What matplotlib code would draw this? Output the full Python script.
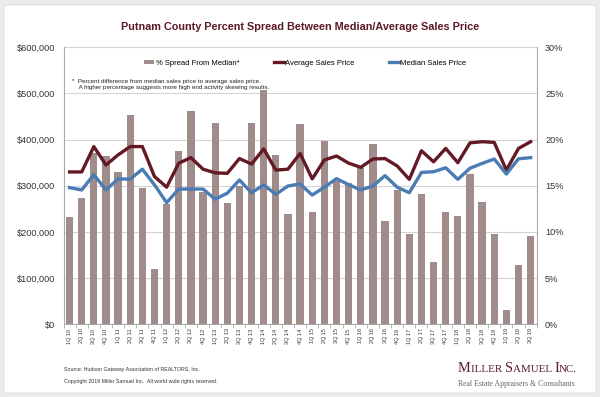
import matplotlib
matplotlib.use("Agg")
import matplotlib.pyplot as plt
import numpy as np
from matplotlib.patches import FancyBboxPatch
from matplotlib.ticker import FuncFormatter

plt.rcParams['font.family'] = ['Liberation Sans', 'DejaVu Sans']

# quarters 1Q10 .. 3Q19
quarters = [f"{q}Q {y:02d}" for y in range(10, 20) for q in range(1, 5)][:39]

# % spread from median (bars, right axis)
spread_pct = [11.6, 13.7, 18.6, 18.2, 16.5, 22.7, 14.8, 6.0, 13.0, 18.8,
              23.1, 14.3, 21.8, 13.1, 15.0, 21.8, 25.4, 18.3, 12.0, 21.7,
              12.2, 19.9, 15.5, 15.3, 16.9, 19.5, 11.2, 14.5, 9.8, 14.1,
              6.8, 12.2, 11.7, 16.3, 13.2, 9.75, 1.5, 6.4, 9.6]

# average sales price (dark red line, left axis)
avg_price = [330000, 330000, 385000, 345000, 367000, 385000, 385000, 320000, 297000, 349000,
             361000, 336000, 328000, 327000, 359000, 347000, 380000, 334000, 336000, 370000,
             315000, 356000, 364500, 349000, 340000, 358000, 359000, 343000, 314000, 376000,
             352000, 381000, 350000, 393000, 395500, 394000, 334000, 381000, 395500]

# median sales price (blue line, left axis)
median_price = [296000, 291000, 324000, 291000, 315000, 314500, 336000, 302000, 263500, 293000,
                293000, 293000, 271000, 284000, 312500, 285000, 302000, 281500, 299500, 304000,
                280000, 297000, 315500, 302500, 291000, 299500, 322000, 297000, 285000, 329000,
                330500, 339000, 314000, 338000, 348500, 358000, 325500, 358500, 361000]

BAR_C = '#a08c8a'
RED_C = '#641a24'
BLUE_C = '#4a7cb3'
GRID_C = '#d4d4d4'
LOGO_C = '#5a1a26'

fig = plt.figure(figsize=(6, 3.97), dpi=100)
fig.patch.set_facecolor('#ebebeb')
panel = FancyBboxPatch((4 / 600, 4 / 397), 592 / 600, 388 / 397,
                       boxstyle="round,pad=0,rounding_size=0.006",
                       transform=fig.transFigure, facecolor='white',
                       edgecolor='#dddddd', linewidth=0.6, zorder=-5)
fig.patches.append(panel)

ax = fig.add_axes([63.5 / 600, 72.7 / 397, 473.2 / 600, 277 / 397])
ax.set_facecolor('none')
x = np.arange(len(quarters))

bars = ax.bar(x, spread_pct, width=0.6, color=BAR_C, zorder=2,
              label='% Spread From Median*')
ax.set_ylim(0, 30)
ax.set_xlim(-0.5, len(quarters) - 0.5)
ax.set_yticks(np.arange(0, 31, 5))
ax.yaxis.set_major_formatter(FuncFormatter(lambda v, p: f"{v:.0f}%"))
ax.grid(axis='y', color=GRID_C, linewidth=0.8, zorder=0)

ax.set_xticks(x)
ax.set_xticklabels(quarters, rotation=90, fontsize=4)
ax.set_xticks(np.arange(-0.5, len(quarters), 1), minor=True)
ax.tick_params(axis='x', which='major', length=0, pad=3, colors='#333333')
ax.tick_params(axis='x', which='minor', length=3, color='#aaaaaa', width=0.6)

ax.spines['top'].set_visible(False)
for s in ['left', 'right', 'bottom']:
    ax.spines[s].set_color('#aaaaaa')
    ax.spines[s].set_linewidth(0.8)

ax2 = ax.twinx()
l1, = ax2.plot(x, avg_price, color=RED_C, linewidth=2.4, zorder=3,
               label='Average Sales Price')
l2, = ax2.plot(x, median_price, color=BLUE_C, linewidth=2.4, zorder=3,
               label='Median Sales Price')
ax2.set_ylim(0, 600000)
ax2.yaxis.tick_left()
ax2.set_yticks(np.arange(0, 600001, 100000))
ax2.yaxis.set_major_formatter(FuncFormatter(lambda v, p: f"${v:,.0f}"))
ax2.tick_params(axis='y', length=0, labelsize=6.6, colors='#333333', pad=6)
for s in ['top', 'left', 'right', 'bottom']:
    ax2.spines[s].set_visible(False)

# twinx moved the first axis' ticks to the left, put them back on the right
ax.yaxis.tick_right()
ax.tick_params(axis='y', length=0, labelsize=6.6, colors='#333333', pad=6)

leg = ax2.legend([bars, l1, l2],
                 ['% Spread From Median*', 'Average Sales Price', 'Median Sales Price'],
                 loc='center', bbox_to_anchor=(0.511, 0.943), ncol=3, frameon=False,
                 fontsize=5.5, handlelength=1.3, handletextpad=0.2,
                 columnspacing=4.5, handleheight=0.5)

ax2.text(0.018, 0.885,
         "*  Percent difference from median sales price to average sales price.\n"
         "    A higher percentage suggests more high end activity skewing results.",
         transform=ax.transAxes, fontsize=4.5, color='#222222', va='top',
         linespacing=1.3)

fig.text(0.5, 1 - 27 / 397,
         "Putnam County Percent Spread Between Median/Average Sales Price",
         ha='center', va='center', fontsize=7.8, fontweight='bold', color=LOGO_C)

fig.text(64 / 600, 1 - 369 / 397,
         "Source: Hudson Gateway Association of REALTORS, Inc.",
         fontsize=3.8, color='#333333', va='center')
fig.text(64 / 600, 1 - 381 / 397,
         "Copyright 2019 Miller Samuel Inc.  All world wide rights reserved.",
         fontsize=3.8, color='#333333', va='center')

# logo in small caps: big initials, smaller capitals for the rest
serif = ['Liberation Serif', 'DejaVu Serif']
logo_parts = [("M", 10.3), ("ILLER ", 7.9), ("S", 10.3), ("AMUEL ", 7.9),
              ("I", 10.3), ("NC.", 7.9)]
renderer = fig.canvas.get_renderer()
xpos = 458
for txt, size in logo_parts:
    t = fig.text(xpos / 600, 1 - 372 / 397, txt, family=serif, fontsize=size,
                 color=LOGO_C, ha='left', va='baseline')
    bb = t.get_window_extent(renderer)
    xpos += bb.width
fig.text(458 / 600, 1 - 384 / 397, "Real Estate Appraisers & Consultants",
         family=serif, fontsize=5.6, color='#666666', ha='left', va='center')

fig.savefig("out.png", dpi=100, facecolor=fig.get_facecolor())
